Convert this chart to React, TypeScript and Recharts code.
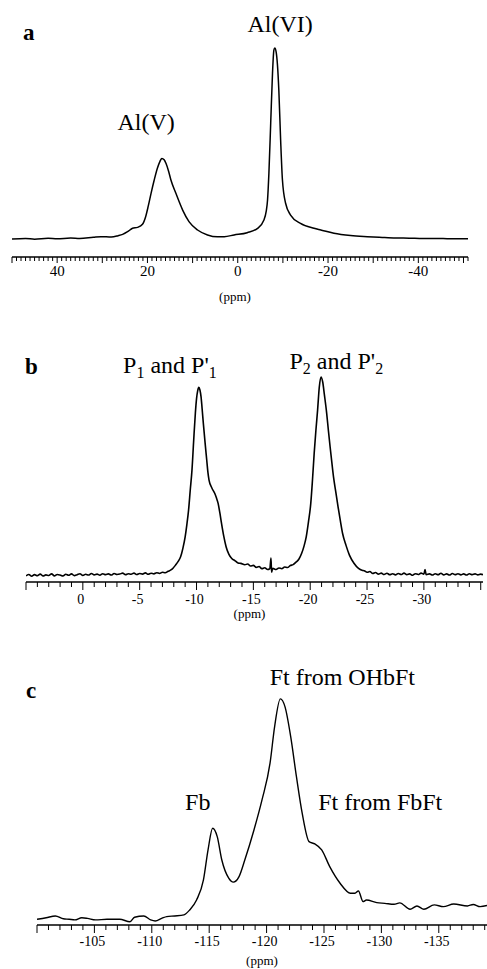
import React from 'react';
import { LineChart, Line, XAxis, YAxis, ReferenceDot, Label } from 'recharts';

const FONT = "'Liberation Serif', 'Times New Roman', Times, serif";

// ---------- Panel a : 27Al spectrum (ppm, intensity) ----------
const spectrumA: [number, number][] = [
  [50, -0.5], [47, -0.2], [45, -0.6], [42, -0.1], [40, -0.4], [37, 0.0], [35, -0.2], [32, 0.4],
  [30.3, 0.7], [28, 0.5], [26.5, 1.2], [25.5, 1.9], [24.4, 3.3], [23.3, 5.1], [22.2, 5.6],
  [21.1, 7.2], [20.4, 11.2], [19.8, 17], [19.2, 23.5], [18.5, 30.5], [17.8, 36.7], [17.2, 40.5],
  [16.8, 41.9], [16.3, 41.2], [15.9, 39.3], [15.3, 35], [14.8, 30.5], [13.7, 23.5], [12.2, 14.7],
  [10.8, 8.6], [8.9, 4.2], [6.7, 1.6], [4.5, 0.6], [3.0, 0.7], [0.8, 1.6], [-2.1, 2.8],
  [-4.4, 5.1], [-5.8, 9.5], [-6.3, 14], [-6.6, 20], [-6.9, 34], [-7.3, 60.4], [-7.7, 86.7],
  [-8.0, 98.9], [-8.2, 100], [-8.5, 98], [-8.8, 91], [-9.1, 77.9], [-9.5, 51.6], [-9.9, 30.5],
  [-10.6, 18.3], [-11.7, 12.1], [-13.9, 7.7], [-16.9, 5.1], [-18.4, 4.2], [-21.3, 2.5],
  [-25, 1.3], [-28.7, 0.7], [-32, 0.3], [-35, 0.0], [-38, -0.1], [-41, -0.3], [-44, -0.2],
  [-47, -0.4], [-51, -0.4],
];
const labelsA = [40, 20, 0, -20, -40];
const annotationsA = [
  { text: 'Al(VI)', ppm: -9.4, v: 108.4 },
  { text: 'Al(V)', ppm: 20.3, v: 56.8 },
];

// ---------- Panel b : 31P spectrum ----------
const spectrumB: [number, number][] = [
  [5.0, -0.4], [4.75, 0.3], [4.5, -0.6], [4.25, 0.2], [4.0, -0.3], [3.75, 0.5], [3.5, -0.5],
  [3.25, 0.1], [3.0, -0.2], [2.75, 0.6], [2.5, -0.4], [2.25, 0.3], [2.0, 0.0], [1.75, -0.5],
  [1.5, 0.4], [1.25, -0.1], [1.0, 0.6], [0.75, -0.3], [0.5, 0.2], [0.25, 0.7], [0.0, -0.2],
  [-0.25, 0.4], [-0.5, 0.0], [-0.75, 0.8], [-1.0, 0.1], [-1.25, 0.5], [-1.5, -0.1], [-1.75, 0.7],
  [-2.0, 0.2], [-2.25, 0.6], [-2.5, 0.0], [-2.75, 0.8], [-3.0, 0.3], [-3.25, 0.5], [-3.5, 1.0],
  [-3.75, 0.2], [-4.0, 0.7], [-4.25, 0.4], [-4.5, 1.0], [-4.75, 0.3], [-5.0, 0.8], [-5.25, 0.5],
  [-5.5, 1.1], [-5.75, 0.4], [-6.0, 0.9], [-6.25, 0.6], [-6.5, 1.2], [-6.75, 0.8], [-7.0, 1.4],
  [-7.25, 1.2], [-7.5, 1.9], [-7.75, 2.6], [-7.95, 3.6], [-8.15, 5.0], [-8.4, 7.0], [-8.6, 9.2],
  [-8.8, 13.5], [-9.0, 19.3], [-9.15, 25.5], [-9.3, 32.8], [-9.45, 43], [-9.6, 53], [-9.75, 68],
  [-9.9, 82], [-10.0, 89], [-10.1, 93], [-10.2, 94.8], [-10.3, 93.5], [-10.4, 90], [-10.5, 83.5],
  [-10.6, 76.6], [-10.75, 67], [-10.9, 58], [-11.0, 52], [-11.1, 48], [-11.35, 44], [-11.6, 41.3],
  [-11.75, 39], [-11.9, 36.2], [-12.05, 31.5], [-12.2, 26.1], [-12.4, 19.5], [-12.6, 14.3],
  [-12.85, 10.5], [-13.1, 8.4], [-13.4, 7.2], [-13.65, 6.1], [-13.9, 5.9], [-14.25, 5.2],
  [-14.5, 5.6], [-14.75, 4.6], [-15.0, 4.9], [-15.25, 3.9], [-15.5, 4.3], [-15.75, 3.2],
  [-16.0, 3.7], [-16.25, 2.8], [-16.45, 3.3], [-16.55, 8.6], [-16.6, 1.5], [-16.7, 3.4],
  [-17.0, 2.8], [-17.25, 3.6], [-17.5, 3.2], [-17.75, 4.1], [-18.0, 3.8], [-18.25, 4.8],
  [-18.5, 5.3], [-18.75, 6.5], [-19.0, 8.0], [-19.25, 11], [-19.45, 14.5], [-19.65, 19.3],
  [-19.85, 27], [-20.05, 36.2], [-20.2, 48], [-20.35, 61.5], [-20.5, 73], [-20.65, 83.3],
  [-20.8, 95], [-20.95, 100], [-21.1, 97.5], [-21.25, 91], [-21.45, 81.7], [-21.6, 73],
  [-21.75, 64.8], [-21.9, 57], [-22.05, 49.6], [-22.25, 42], [-22.45, 34.5], [-22.65, 27.5],
  [-22.85, 21], [-23.15, 15], [-23.45, 10.1], [-23.85, 6.0], [-24.25, 3.4], [-24.55, 2.4],
  [-24.75, 2.2], [-25.0, 1.4], [-25.25, 1.8], [-25.5, 0.8], [-25.75, 1.3], [-26.0, 0.5],
  [-26.25, 1.0], [-26.5, 0.3], [-26.75, 0.9], [-27.0, 0.2], [-27.25, 0.7], [-27.5, 0.1],
  [-27.75, 0.8], [-28.0, 0.3], [-28.25, 1.0], [-28.5, 0.2], [-28.75, 0.6], [-29.0, -0.1],
  [-29.25, 0.7], [-29.5, 0.3], [-29.75, 1.0], [-30.0, 0.4], [-30.1, 2.8], [-30.2, 0.2],
  [-30.5, 0.6], [-30.75, 0.0], [-31.0, 0.7], [-31.25, 0.2], [-31.5, 0.9], [-31.75, 0.1],
  [-32.0, 0.6], [-32.25, 0.0], [-32.5, 0.8], [-32.75, 0.2], [-33.0, 0.7], [-33.25, 0.1],
  [-33.5, 0.6], [-33.75, 0.0], [-34.0, 0.7], [-34.25, 0.2], [-34.5, 0.6], [-34.75, 0.1],
  [-35.0, 0.5], [-35.2, 0.2],
];
const labelsB = [0, -5, -10, -15, -20, -25, -30];
const annotationsB = [
  { text: "P_1 and P'_1", ppm: -7.66, v: 102 },
  { text: "P_2 and P'_2", ppm: -22.3, v: 104 },
];

// ---------- Panel c : 19F spectrum ----------
const spectrumC: [number, number][] = [
  [-100.0, 0.3], [-100.8, 1.0], [-101.6, 1.8], [-102.3, 0.5], [-102.8, 0.3], [-103.3, 0.0],
  [-103.9, 1.0], [-104.4, 0.7], [-105.1, 0.0], [-106.1, 0.3], [-107.2, 0.3], [-108.1, -0.8],
  [-108.5, 1.2], [-109.3, 1.8], [-109.9, 0.0], [-110.3, -0.5], [-110.9, 0.8], [-111.3, 1.5],
  [-112.0, 1.8], [-112.8, 2.3], [-113.3, 4.5], [-113.9, 9.0], [-114.5, 18.1], [-114.9, 31.7],
  [-115.3, 41.5], [-115.7, 37.7], [-116.1, 27.1], [-116.7, 18.9], [-117.1, 17.1], [-117.6, 19.6],
  [-118.1, 27.1], [-118.9, 40.7], [-119.6, 54.3], [-120.3, 70.9], [-120.7, 87.5], [-121.2, 100],
  [-121.6, 96.5], [-122.1, 82.9], [-122.6, 64.8], [-123.1, 48.3], [-123.7, 35.4], [-124.2, 34.4],
  [-124.8, 31.7], [-125.5, 24.1], [-126.4, 16.6], [-127.3, 12.1], [-127.7, 12.1], [-128.0, 13.1],
  [-128.4, 8.3], [-128.7, 9.0], [-129.6, 7.8], [-130.3, 7.5], [-131.1, 7.1], [-131.6, 7.7],
  [-132.5, 4.8], [-133.1, 6.3], [-133.7, 4.8], [-134.6, 6.8], [-135.4, 6.0], [-136.3, 7.2],
  [-137.5, 6.3], [-138.0, 7.0], [-138.6, 6.0], [-139.2, 6.5],
];
const labelsC = [-105, -110, -115, -120, -125, -130, -135];
const annotationsC = [
  { text: 'Ft from OHbFt', ppm: -126.6, v: 106.3 },
  { text: 'Fb', ppm: -114.0, v: 49.8 },
  { text: 'Ft from FbFt', ppm: -129.9, v: 49.8 },
];

const panelLetters = ['a', 'b', 'c'];

// ---------- helpers ----------
const intRange = (lo: number, hi: number) => {
  const out: number[] = [];
  for (let i = lo; i <= hi; i++) out.push(i);
  return out;
};
const toRows = (pairs: [number, number][]) => pairs.map(([ppm, v]) => ({ ppm, v }));

type Ann = { text: string; ppm: number; v: number };

const AnnText = ({ cx, cy, text }: { cx: number; cy: number; text: string }) => {
  const parts = text.split(/_(\d)/);
  const nodes: React.ReactNode[] = [];
  parts.forEach((p, i) => {
    if (i % 2 === 1) {
      nodes.push(
        <tspan key={i} fontSize={16} dy={5}>{p}</tspan>
      );
    } else if (p.length) {
      nodes.push(
        <tspan key={i} dy={i > 0 ? -5 : 0}>{p}</tspan>
      );
    }
  });
  return (
    <text x={cx} y={cy} textAnchor="middle" fontFamily={FONT} style={{ fontFamily: FONT }} fontSize={24} fill="#000">
      {nodes}
    </text>
  );
};

type PanelProps = {
  pairs: [number, number][];
  top: number;
  marginTop: number;
  plotHeight: number;
  axisHeight: number;
  marginLeft: number;
  marginRight: number;
  xDomain: [number, number];
  yDomain: [number, number];
  ticks: number[];
  labels: number[];
  majorEvery: number;
  minorLen: number;
  majorLen: number;
  labelDy: number;
  labelDx: number;
  tickFont: number;
  ppmDy: number;
  ppmDx: number;
  annotations: Ann[];
  strokeWidth: number;
};

const Panel = (p: PanelProps) => {
  const height = p.marginTop + p.plotHeight + p.axisHeight;
  const data = toRows(p.pairs);
  const renderTick = (props: any) => {
    const { x, y, payload } = props;
    const v = payload.value as number;
    const r = v / p.majorEvery;
    const isMajor = Math.abs(r - Math.round(r)) < 1e-6;
    const hasLabel = p.labels.includes(v);
    return (
      <g>
        <line x1={x} y1={y} x2={x} y2={y + (isMajor ? p.majorLen : p.minorLen)} stroke="#000" strokeWidth={1} />
        {hasLabel && (
          <text x={x + p.labelDx} y={y + p.labelDy} textAnchor="middle" fontFamily={FONT} style={{ fontFamily: FONT }} fontSize={p.tickFont} fill="#000">
            {String(v)}
          </text>
        )}
      </g>
    );
  };
  const renderPpm = (props: any) => {
    const vb = props.viewBox || {};
    return (
      <text x={vb.x + vb.width / 2 + p.ppmDx} y={vb.y + p.ppmDy} textAnchor="middle" fontFamily={FONT} style={{ fontFamily: FONT }} fontSize={13} fill="#000">
        (ppm)
      </text>
    );
  };
  return (
    <div style={{ position: 'absolute', left: 0, top: p.top, width: 487, height }}>
      <LineChart
        width={487}
        height={height}
        data={data}
        margin={{ top: p.marginTop, right: p.marginRight, bottom: 0, left: p.marginLeft }}
      >
        <XAxis
          dataKey="ppm"
          type="number"
          domain={p.xDomain}
          reversed
          allowDataOverflow
          ticks={p.ticks}
          interval={0}
          tickSize={0}
          tickMargin={0}
          tickLine={false}
          axisLine={{ stroke: '#000', strokeWidth: 1.5 }}
          height={p.axisHeight}
          tick={renderTick}
        >
          <Label content={renderPpm} />
        </XAxis>
        <YAxis hide type="number" domain={p.yDomain} allowDataOverflow />
        <Line
          type="monotone"
          dataKey="v"
          stroke="#000"
          strokeWidth={p.strokeWidth}
          dot={false}
          isAnimationActive={false}
        />
        {p.annotations.map((a, i) => (
          <ReferenceDot
            key={i}
            x={a.ppm}
            y={a.v}
            r={0}
            ifOverflow="visible"
            shape={(sp: any) => <AnnText cx={sp.cx} cy={sp.cy} text={a.text} />}
          />
        ))}
      </LineChart>
    </div>
  );
};

export default function App() {
  return (
    <div style={{ position: 'absolute', left: 0, top: 0, width: 487, height: 969, background: '#fff', overflow: 'hidden' }}>
      <svg width={487} height={969} style={{ position: 'absolute', left: 0, top: 0 }}>
        <text x={23} y={40} fontFamily={FONT} style={{ fontFamily: FONT }} fontWeight="bold" fontSize={23}>{panelLetters[0]}</text>
        <text x={25} y={374} fontFamily={FONT} style={{ fontFamily: FONT }} fontWeight="bold" fontSize={23}>{panelLetters[1]}</text>
        <text x={26} y={698} fontFamily={FONT} style={{ fontFamily: FONT }} fontWeight="bold" fontSize={23}>{panelLetters[2]}</text>
      </svg>
      <Panel
        pairs={spectrumA}
        top={0}
        marginTop={38}
        plotHeight={219}
        axisHeight={50}
        marginLeft={12}
        marginRight={19}
        xDomain={[-51, 50]}
        yDomain={[-10, 105.26]}
        ticks={intRange(-51, 50)}
        labels={labelsA}
        majorEvery={10}
        minorLen={4}
        majorLen={6}
        labelDy={19}
        labelDx={0}
        tickFont={15}
        ppmDy={44}
        ppmDx={-5}
        annotations={annotationsA}
        strokeWidth={1.5}
      />
      <Panel
        pairs={spectrumB}
        top={300}
        marginTop={70}
        plotHeight={212}
        axisHeight={45}
        marginLeft={26}
        marginRight={4}
        xDomain={[-35.2, 5]}
        yDomain={[-3.5, 103.57]}
        ticks={intRange(-35, 5)}
        labels={labelsB}
        majorEvery={5}
        minorLen={5}
        majorLen={8}
        labelDy={22}
        labelDx={-2}
        tickFont={14}
        ppmDy={36}
        ppmDx={-5}
        annotations={annotationsB}
        strokeWidth={1.6}
      />
      <Panel
        pairs={spectrumC}
        top={640}
        marginTop={50}
        plotHeight={235}
        axisHeight={44}
        marginLeft={37}
        marginRight={0}
        xDomain={[-139.2, -100]}
        yDomain={[-2.3, 104.03]}
        ticks={intRange(-139, -100)}
        labels={labelsC}
        majorEvery={5}
        minorLen={5}
        majorLen={8}
        labelDy={21}
        labelDx={-2}
        tickFont={14}
        ppmDy={40}
        ppmDx={0}
        annotations={annotationsC}
        strokeWidth={1.4}
      />
    </div>
  );
}
